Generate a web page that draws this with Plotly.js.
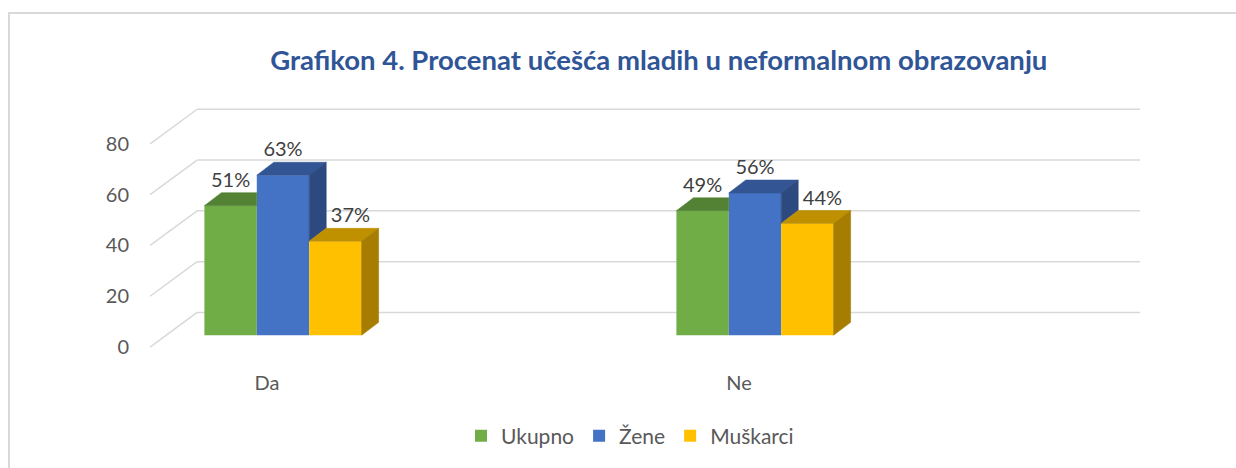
<!DOCTYPE html>
<html>
<head>
<meta charset="utf-8">
<script src="https://cdn.plot.ly/plotly-3.0.1.min.js"></script>
<style>
  html, body { margin: 0; padding: 0; background: #fff; }
  #wrap { position: relative; width: 1236px; height: 468px; overflow: hidden; }
  #chart { position: absolute; left: 0; top: 0; width: 1236px; height: 468px; }
  #frame { position: absolute; left: 8px; top: 12px; width: 1240px; height: 470px;
           border-left: 2px solid #D9D9D9; border-top: 2px solid #D9D9D9; pointer-events: none; }
</style>
</head>
<body>
<div id="wrap"><div id="chart"></div><div id="frame"></div></div>
<script>
// ---- data ----
const categories = ['Da', 'Ne'];
const seriesNames = ['Ukupno', 'Žene', 'Muškarci'];
const ukupno = [51, 49];
const zene = [63, 56];
const muskarci = [37, 44];
const yTicks = [0, 20, 40, 60, 80];
const titleText = 'Grafikon 4. Procenat učešća mladih u neformalnom obrazovanju';

// ---- styles / geometry ----
const series = [ukupno, zene, muskarci];
const frontColors = ['#70AD47', '#4472C4', '#FFC000'];
const topColors = ['#548235', '#335593', '#BF9000'];
const sideColors = ['#4A7330', '#2C4A7F', '#A67D00'];
const FONT = 'Lato, "Open Sans", sans-serif';

const PX_PER_U = 472, PX_PER_V = 2.57;      // pixels per category unit / per value unit
const ux = p => p / PX_PER_U, vy = p => p / PX_PER_V;
const barW = ux(52.4);
const barDx = ux(17), barDy = vy(13);          // bar depth offset
const wallFrontDx = ux(-16), wallFrontDy = vy(-12);
const wallBackDx = ux(31), wallBackDy = vy(23);
const wallLeftBack = -0.182, wallRight = 1.816;
const labelDy = vy(24), lastLabelDx = ux(15);

const catX = categories.map((c, i) => i);
const barX = s => catX.map(c => c + (s - 1) * barW);

const traces = [];
// front faces (bars)
series.forEach((vals, s) => {
  traces.push({
    type: 'bar', name: seriesNames[s], x: barX(s), y: vals, width: barW,
    marker: { color: frontColors[s], line: { width: 0 } },
    hoverinfo: 'skip', showlegend: true
  });
});
// top and side faces
catX.forEach((c, ci) => {
  series.forEach((vals, s) => {
    const h = vals[ci];
    const xc = barX(s)[ci];
    const xl = xc - barW / 2, xr = xc + barW / 2;
    const next = s < series.length - 1 ? series[s + 1][ci] : null;
    let tx, ty;
    if (next !== null && next > h) {
      tx = [xl, xr, xr, xl + barDx, xl];
      ty = [h, h, h + barDy, h + barDy, h];
    } else {
      tx = [xl, xr, xr + barDx, xl + barDx, xl];
      ty = [h, h, h + barDy, h + barDy, h];
    }
    traces.push({ type: 'scatter', mode: 'lines', x: tx, y: ty, fill: 'toself',
      fillcolor: topColors[s], line: { width: 0.6, color: topColors[s] },
      hoverinfo: 'skip', showlegend: false });
    const lower = next === null ? 0 : next;
    if (lower < h) {
      traces.push({ type: 'scatter', mode: 'lines',
        x: [xr, xr, xr + barDx, xr + barDx, xr],
        y: [lower, h, h + barDy, lower + barDy, lower], fill: 'toself',
        fillcolor: sideColors[s], line: { width: 0.6, color: sideColors[s] },
        hoverinfo: 'skip', showlegend: false });
    }
  });
});
// data labels
series.forEach((vals, s) => {
  traces.push({
    type: 'scatter', mode: 'text',
    x: barX(s).map(x => x + (s === series.length - 1 ? lastLabelDx : 0)),
    y: vals.map(v => v + labelDy),
    text: vals.map(v => v + '%'), textposition: 'middle center',
    textfont: { family: FONT, size: 20, color: '#404040' },
    cliponaxis: false, hoverinfo: 'skip', showlegend: false
  });
});

// 3D wall gridlines as shapes below traces
const shapes = [];
const gridStyle = { color: '#D9D9D9', width: 1.5 };
yTicks.forEach(t => {
  const fx = wallLeftBack - (wallBackDx - wallFrontDx), fy = t + wallFrontDy;
  const bx = wallLeftBack, by = t + wallBackDy;
  shapes.push({ type: 'line', xref: 'x', yref: 'y', x0: fx, y0: fy, x1: bx, y1: by, line: gridStyle, layer: 'below' });
  shapes.push({ type: 'line', xref: 'x', yref: 'y', x0: bx, y0: by, x1: wallRight, y1: by, line: gridStyle, layer: 'below' });
});

const mL = 146, mR = 90, mT = 95, mB = 114;
const plotW = 1236 - mL - mR, plotH = 468 - mT - mB;
const x0 = ux(mL - 283), x1 = x0 + plotW / PX_PER_U;
const y1 = vy(338 - mT), y0 = y1 - plotH / PX_PER_V;

const layout = {
  width: 1236, height: 468,
  margin: { l: mL, r: mR, t: mT, b: mB, pad: 0 },
  paper_bgcolor: '#ffffff', plot_bgcolor: '#ffffff',
  font: { family: FONT, color: '#595959', size: 20 },
  title: { text: '<b>' + titleText + '</b>', font: { family: FONT, size: 27.5, color: '#2F5597' },
    x: 0.533, xanchor: 'center', xref: 'container', y: 1 - 60 / 468, yanchor: 'middle', yref: 'container' },
  barmode: 'overlay',
  xaxis: { range: [x0, x1], showgrid: false, zeroline: false, showline: false,
    tickvals: catX.map(c => c + wallFrontDx), ticktext: categories,
    ticks: 'outside', ticklen: 14, tickcolor: 'rgba(0,0,0,0)',
    tickfont: { family: FONT, size: 20, color: '#595959' }, fixedrange: true },
  yaxis: { range: [y0, y1], showgrid: false, zeroline: false, showline: false,
    tickvals: yTicks.map(t => t + wallFrontDy), ticktext: yTicks.map(String),
    ticks: 'outside', ticklen: 12, tickcolor: 'rgba(0,0,0,0)',
    tickfont: { family: FONT, size: 20, color: '#595959' }, fixedrange: true },
  shapes: shapes,
  showlegend: true,
  legend: { orientation: 'h', x: (630 - mL) / plotW, xanchor: 'center',
    y: -(440 - (468 - mB)) / plotH, yanchor: 'middle',
    font: { family: FONT, size: 21, color: '#595959' }, traceorder: 'normal' }
};

Plotly.newPlot('chart', traces, layout, { displayModeBar: false, staticPlot: true });
</script>
</body>
</html>
